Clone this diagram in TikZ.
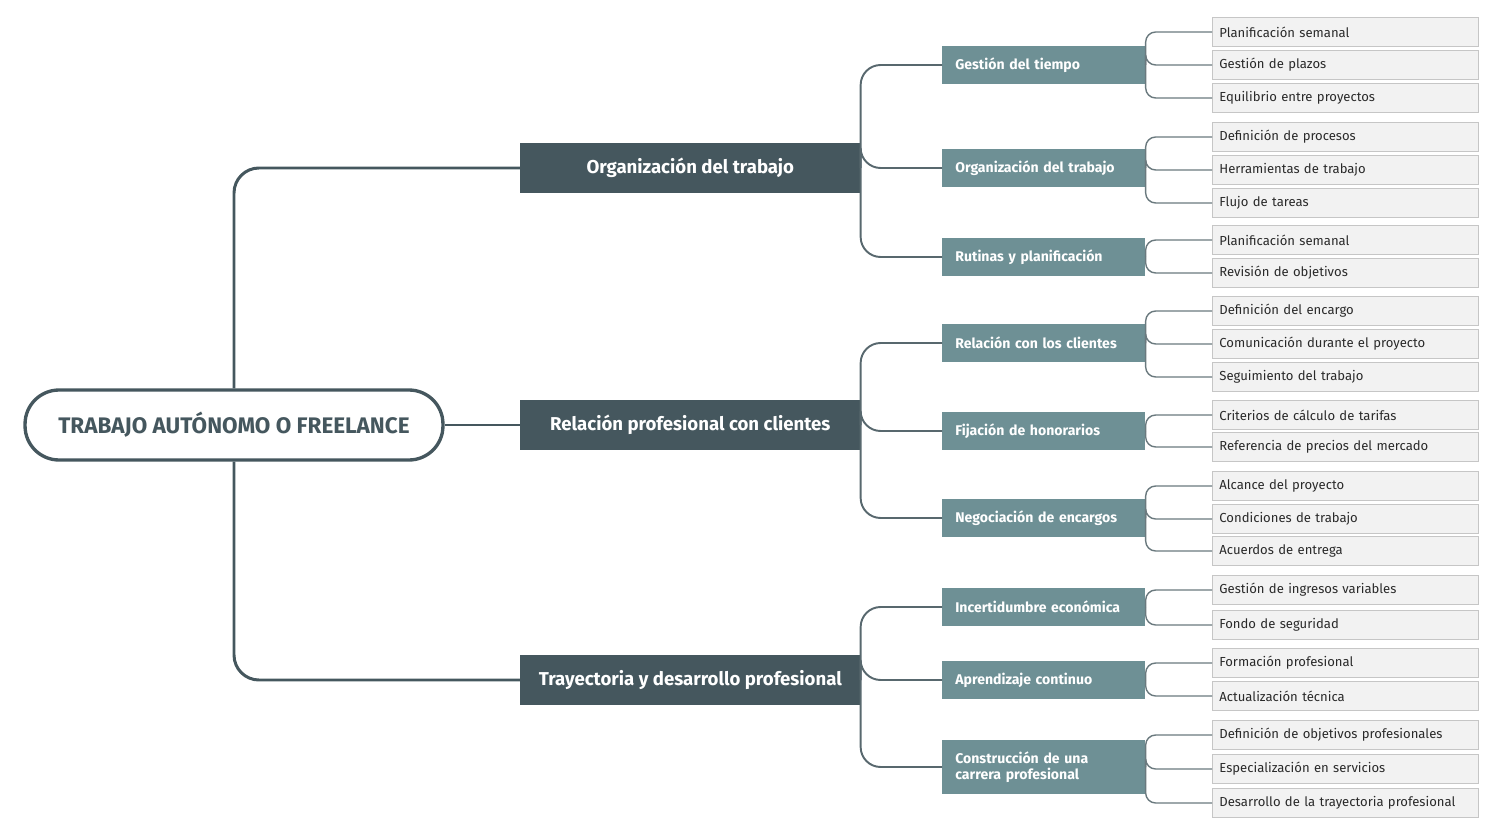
\documentclass[tikz,border=0pt]{standalone}
\usepackage{fontspec}
\setmainfont{Fira Sans}

\definecolor{slate}{HTML}{45575E}
\definecolor{subteal}{HTML}{6E9095}
\definecolor{leaffill}{HTML}{F2F2F2}
\definecolor{leafline}{HTML}{C6C6C6}
\definecolor{leaftext}{HTML}{2A2A2A}

\tikzset{
  rootbox/.style={draw=slate, line width=1.9pt, rounded corners=0.68cm, fill=white,
    minimum width=8.36cm, minimum height=1.4cm, text=slate,
    font=\bfseries\fontsize{12.8}{14}\selectfont},
  mainbox/.style={fill=slate, text=white, anchor=west,
    minimum width=6.8cm, minimum height=1cm,
    font=\bfseries\fontsize{10.6}{12}\selectfont},
  subbox/.style={fill=subteal, text=white, anchor=west, align=left,
    text width=3.54cm, inner xsep=0.26cm,
    font=\bfseries\fontsize{8}{9}\selectfont},
  leafbox/.style={draw=leafline, fill=leaffill, text=leaftext, anchor=west, align=left,
    text width=5.04cm, inner xsep=0.14cm, minimum height=0.58cm,
    font=\fontsize{7.45}{9}\selectfont},
  rootline/.style={draw=slate, line width=1.7pt, rounded corners=0.5cm},
  subline/.style={draw=slate!90, line width=1.1pt, rounded corners=0.4cm},
  leafconn/.style={draw=slate!80, line width=0.8pt, rounded corners=0.2cm},
}

\begin{document}
\begin{tikzpicture}[x=0.02cm, y=-0.02cm]
  \useasboundingbox (0,0) rectangle (1500,834);

  % --- centre ---
  \node[rootbox] (root) at (234,425) {TRABAJO AUTÓNOMO O FREELANCE};

  % --- main branches ---
  \node[mainbox] (orga) at (520,168) {Organización del trabajo};
  \node[mainbox] (rela) at (520,425) {Relación profesional con clientes};
  \node[mainbox] (tray) at (520,680) {Trayectoria y desarrollo profesional};

  \draw[rootline] (root.north) |- (orga.west);
  \draw[rootline] (root.east) -- (rela.west);
  \draw[rootline] (root.south) |- (tray.west);

  % --- sub branches ---
  \foreach \m/\s/\y/\h/\txt in {
      orga/gest/65/0.76/Gestión del tiempo,
      orga/otra/168/0.76/Organización del trabajo,
      orga/ruti/257/0.76/Rutinas y planificación,
      rela/clie/343/0.76/Relación con los clientes,
      rela/hono/431/0.76/Fijación de honorarios,
      rela/nego/518/0.76/Negociación de encargos,
      tray/ince/607/0.76/Incertidumbre económica,
      tray/apre/680/0.76/Aprendizaje continuo,
      tray/cons/767/1.08/{Construcción de una\\carrera profesional}} {
    \node[subbox, minimum height=\h cm] (\s) at (942,\y) {\txt};
    \draw[subline] (\m.east) |- (\s.west);
  }

  % --- leaves ---
  \foreach \s/\i/\y/\txt in {
      gest/1/32/Planificación semanal,
      gest/2/65/Gestión de plazos,
      gest/3/98/Equilibrio entre proyectos,
      otra/1/137/Definición de procesos,
      otra/2/170/Herramientas de trabajo,
      otra/3/203/Flujo de tareas,
      ruti/1/240/Planificación semanal,
      ruti/2/273/Revisión de objetivos,
      clie/1/311/Definición del encargo,
      clie/2/344/Comunicación durante el proyecto,
      clie/3/377/Seguimiento del trabajo,
      hono/1/415/Criterios de cálculo de tarifas,
      hono/2/447/Referencia de precios del mercado,
      nego/1/486/Alcance del proyecto,
      nego/2/519/Condiciones de trabajo,
      nego/3/551/Acuerdos de entrega,
      ince/1/590/Gestión de ingresos variables,
      ince/2/625/Fondo de seguridad,
      apre/1/663/Formación profesional,
      apre/2/696/Actualización técnica,
      cons/1/735/Definición de objetivos profesionales,
      cons/2/769/Especialización en servicios,
      cons/3/803/Desarrollo de la trayectoria profesional} {
    \node[leafbox] (\s-\i) at (1212,\y) {\txt};
    \draw[leafconn] (\s.east) |- (\s-\i.west);
  }
\end{tikzpicture}
\end{document}
